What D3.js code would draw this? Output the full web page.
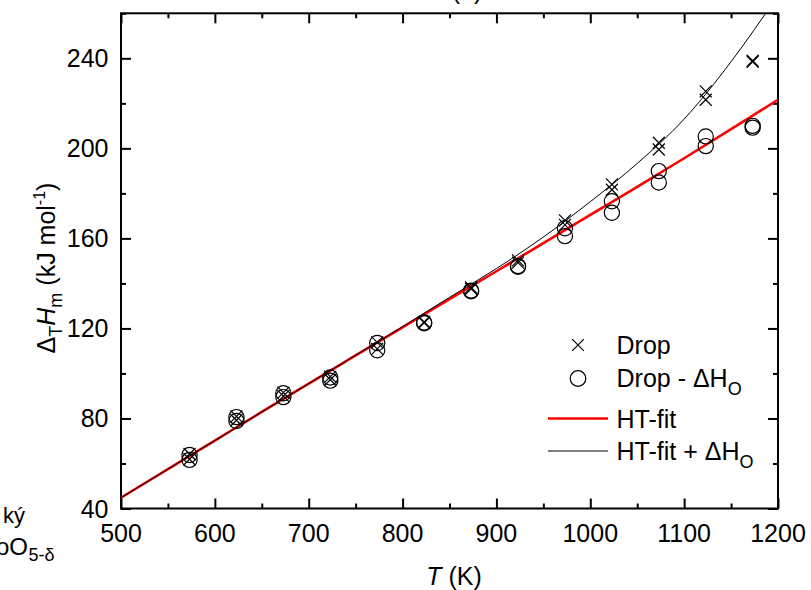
<!DOCTYPE html>
<html>
<head>
<meta charset="utf-8">
<script src="https://cdn.jsdelivr.net/npm/d3@7/dist/d3.min.js"></script>
<style>
  html, body { margin: 0; padding: 0; background: #fff; }
  svg { display: block; font-family: Arial, "Liberation Sans", sans-serif; }
</style>
</head>
<body>
<svg id="chart" width="811" height="590"></svg>
<script>
// Drop calorimetry temperatures (K)
const temps = [573, 623, 673, 723, 773, 823, 873, 923, 973, 1023, 1073, 1123, 1173];
// Drop enthalpy increments, two runs (kJ/mol)
const dropRunA = [64.2, 80.9, 91.5, 98.6, 113.8, 122.9, 138.2, 150.2, 168.0, 184.0, 202.5, 225.3, 238.9];
const dropRunB = [61.9, 79.2, 89.9, 97.2, 110.9, 122.5, 137.6, 149.2, 166.0, 181.6, 199.5, 221.6, 238.4];
// Drop minus oxygen-release enthalpy, two runs (kJ/mol)
const corrRunA = [63.8, 80.6, 91.2, 98.2, 113.5, 122.6, 136.8, 147.7, 164.5, 176.5, 189.9, 205.3, 210.0];
const corrRunB = [61.6, 78.9, 89.5, 96.8, 110.3, 122.3, 136.5, 147.4, 161.0, 171.4, 184.8, 201.0, 209.2];
// Fitted curves
const fitT = [500, 550, 600, 650, 700, 750, 800, 850, 900, 950, 1000, 1050, 1100, 1150, 1200];
const htFit = [44.8, 57.5, 70.2, 82.9, 95.5, 108.0, 120.5, 133.0, 145.4, 157.9, 170.4, 182.9, 195.6, 208.5, 221.6];
const htFitDH = [44.8, 57.5, 70.2, 82.9, 95.5, 108.1, 120.8, 133.8, 146.6, 160.6, 176.3, 193.3, 213.0, 238.5, 268.0];
// Axis ticks
const xMajor = [500, 600, 700, 800, 900, 1000, 1100, 1200];
const xMinor = [550, 650, 750, 850, 950, 1050, 1150];
const yMajor = [40, 80, 120, 160, 200, 240];
const yMinor = [60, 100, 140, 180, 220, 260];

const svg = d3.select("#chart");
const L = 121, R = 778, T = 13.3, B = 508.5;
const x = d3.scaleLinear().domain([500, 1200]).range([L, R]);
const y = d3.scaleLinear().domain([40, 260]).range([B, T]);
const FS = 25;

svg.append("defs").append("clipPath").attr("id", "plotClip")
  .append("rect").attr("x", L).attr("y", T).attr("width", R - L).attr("height", B - T);

// Axes with inward ticks on all four sides
function tickAxis(axisGen, tr, vals, len) {
  const g = svg.append("g").attr("transform", tr)
    .call(axisGen.tickValues(vals).tickSizeInner(-len).tickSizeOuter(0).tickFormat(""));
  g.select(".domain").remove();
  g.selectAll(".tick line").attr("stroke", "#000").attr("stroke-width", 2);
  return g;
}
tickAxis(d3.axisBottom(x), `translate(0,${B})`, xMajor, 10);
tickAxis(d3.axisBottom(x), `translate(0,${B})`, xMinor, 5);
tickAxis(d3.axisTop(x), `translate(0,${T})`, xMajor, 10);
tickAxis(d3.axisTop(x), `translate(0,${T})`, xMinor, 5);
tickAxis(d3.axisLeft(y), `translate(${L},0)`, yMajor, 10);
tickAxis(d3.axisLeft(y), `translate(${L},0)`, yMinor, 5);
tickAxis(d3.axisRight(y), `translate(${R},0)`, yMajor, 10);
tickAxis(d3.axisRight(y), `translate(${R},0)`, yMinor, 5);

// Tick labels
svg.append("g").selectAll("text").data(xMajor).join("text")
  .attr("x", d => x(d)).attr("y", 542).attr("text-anchor", "middle")
  .attr("font-size", FS).text(d => d);
svg.append("g").selectAll("text").data(yMajor).join("text")
  .attr("x", 108.5).attr("y", d => y(d) + 9).attr("text-anchor", "end")
  .attr("font-size", FS).text(d => d);

// Frame
svg.append("rect").attr("x", L).attr("y", T).attr("width", R - L).attr("height", B - T)
  .attr("fill", "none").attr("stroke", "#000").attr("stroke-width", 2);

// Fit lines
const plot = svg.append("g").attr("clip-path", "url(#plotClip)");
const line = d3.line().x(d => x(d[0])).y(d => y(d[1])).curve(d3.curveMonotoneX);
plot.append("path").datum(fitT.map((t, i) => [t, htFit[i]]))
  .attr("d", line).attr("fill", "none").attr("stroke", "#ff0000").attr("stroke-width", 2.6);
plot.append("path").datum(fitT.map((t, i) => [t, htFitDH[i]]))
  .attr("d", line).attr("fill", "none").attr("stroke", "#000").attr("stroke-width", 1);

// Markers
const cross = (g, cx, cy, h) => g.append("path")
  .attr("d", `M${cx - h},${cy - h}L${cx + h},${cy + h}M${cx - h},${cy + h}L${cx + h},${cy - h}`)
  .attr("stroke", "#000").attr("stroke-width", 1.2).attr("fill", "none");
const circ = (g, cx, cy, r) => g.append("circle").attr("cx", cx).attr("cy", cy).attr("r", r)
  .attr("fill", "none").attr("stroke", "#000").attr("stroke-width", 1.2);

const marks = svg.append("g");
temps.forEach((t, i) => {
  circ(marks, x(t), y(corrRunA[i]), 7.6);
  circ(marks, x(t), y(corrRunB[i]), 7.6);
  cross(marks, x(t), y(dropRunA[i]), 6);
  cross(marks, x(t), y(dropRunB[i]), 6);
});

// Legend
const leg = svg.append("g").attr("font-size", FS);
cross(leg, 578, 345, 5.8);
leg.append("text").attr("x", 616.5).attr("y", 353.5).text("Drop");
circ(leg, 578, 378.5, 7.8);
const t2 = leg.append("text").attr("x", 616.5).attr("y", 387);
t2.append("tspan").text("Drop - \u0394H");
t2.append("tspan").attr("font-size", 18).attr("dy", 8).text("O");
leg.append("line").attr("x1", 548).attr("x2", 608).attr("y1", 418.5).attr("y2", 418.5)
  .attr("stroke", "#ff0000").attr("stroke-width", 2.6);
leg.append("text").attr("x", 616.5).attr("y", 427.5).text("HT-fit");
leg.append("line").attr("x1", 548).attr("x2", 608).attr("y1", 451).attr("y2", 451)
  .attr("stroke", "#000").attr("stroke-width", 1);
const t4 = leg.append("text").attr("x", 616.5).attr("y", 460);
t4.append("tspan").text("HT-fit + \u0394H");
t4.append("tspan").attr("font-size", 18).attr("dy", 8).text("O");

// Axis titles
const xt = svg.append("text").attr("x", 454).attr("y", 585).attr("text-anchor", "middle").attr("font-size", FS);
xt.append("tspan").attr("font-style", "italic").text("T");
xt.append("tspan").text(" (K)");

const yt = svg.append("text").attr("transform", "translate(55,268) rotate(-90)")
  .attr("text-anchor", "middle").attr("font-size", FS);
yt.append("tspan").text("\u0394");
yt.append("tspan").attr("font-size", 18).attr("dy", 7).text("T");
yt.append("tspan").attr("font-style", "italic").attr("dy", -7).text("H");
yt.append("tspan").attr("font-size", 18).attr("dy", 7).text("m");
yt.append("tspan").attr("dy", -7).text(" (kJ mol");
yt.append("tspan").attr("font-size", 16).attr("dy", -10).text("-1");
yt.append("tspan").attr("dy", 10).text(")");

// Panel label at top and text of the neighbouring panel at the left edge
svg.append("text").attr("x", 467).attr("y", -1).attr("text-anchor", "middle")
  .attr("font-size", FS).text("(b)");
svg.append("text").attr("x", 25).attr("y", 523).attr("text-anchor", "end")
  .attr("font-size", 22).text("ký");
svg.append("text").attr("x", 28).attr("y", 555).attr("text-anchor", "end")
  .attr("font-size", 24).text("CoO");
svg.append("text").attr("x", 28.5).attr("y", 561).attr("font-size", 18).text("5-\u03b4");
</script>
</body>
</html>
